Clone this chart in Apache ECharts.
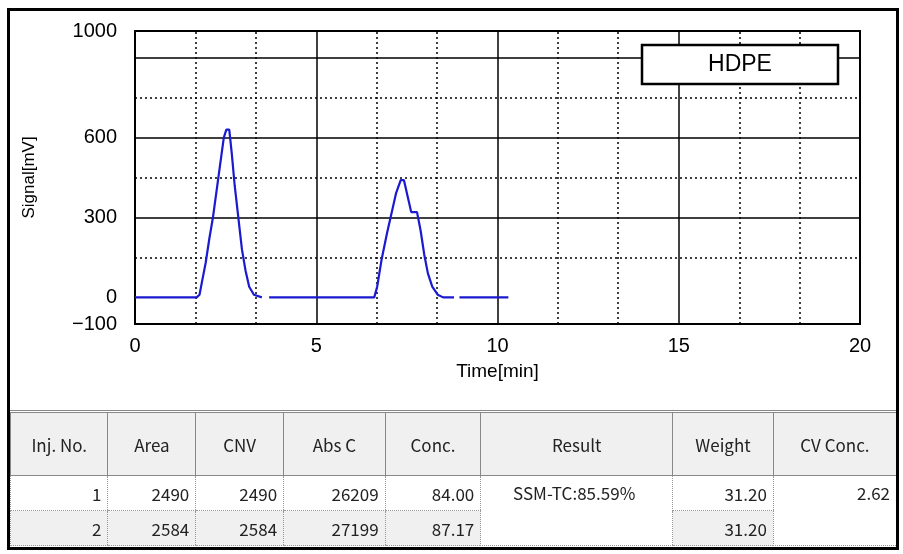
<!DOCTYPE html>
<html><head><meta charset="utf-8">
<script src="https://cdn.jsdelivr.net/npm/echarts@6/dist/echarts.min.js"></script>
<style>
body{margin:0;width:903px;height:554px;background:#fff;overflow:hidden;font-family:"Liberation Sans",Arial,sans-serif}
#frame{position:absolute;left:7px;top:8px;width:886px;height:536px;border:3px solid #000;box-sizing:content-box}
#chart{position:absolute;left:0;top:0;width:903px;height:410px}
table{position:absolute;left:10px;top:410px;width:886px;border-collapse:collapse;font-family:"Noto Sans CJK JP",sans-serif;font-size:17px;color:#222}
th{height:60px;background:#f0f0f0;font-weight:normal;border-left:1px solid #888;border-top:3px double #888;border-bottom:1px solid #888}
td{height:32px;text-align:right;padding-right:6px;border-left:1px dotted #999;border-bottom:1px dotted #999}
tr.r2 td.g{background:#f0f0f0}
</style></head><body>
<div id="chart"></div>
<div id="frame"></div>
<table id="tbl"></table>
<script>
const headers=["Inj. No.","Area","CNV","Abs C","Conc.","Result","Weight","CV Conc."];
const colWidths=[98,87,87,101,95,194,100,124];
const row1=["1","2490","2490","26209","84.00","SSM-TC:85.59%","31.20","2.62"];
const row2=["2","2584","2584","27199","87.17","31.20"];
const seg1=[[0,0],[1.7,0],[1.78,10],[1.85,60],[1.95,130],[2.05,220],[2.15,300],[2.25,400],[2.35,500],[2.45,600],[2.52,630],[2.6,630],[2.67,540],[2.75,420],[2.85,300],[2.95,180],[3.05,100],[3.15,40],[3.28,10],[3.5,0]];
const seg2=[[3.7,0],[6.6,0],[6.68,40],[6.8,140],[6.95,240],[7.1,330],[7.2,390],[7.33,440],[7.42,440],[7.52,380],[7.62,320],[7.78,320],[7.88,250],[7.98,160],[8.08,90],[8.2,40],[8.35,10],[8.5,0],[8.8,0]];
const seg3=[[8.95,0],[10.3,0]];
const yLabels=[-100,0,300,600,1000];
const xLabels=[0,5,10,15,20];

let tb='<tr>'+headers.map((h,i)=>`<th style="width:${colWidths[i]}px">${h}</th>`).join('')+'</tr>';
tb+='<tr>'+row1.map((v,i)=>i==5?`<td rowspan="2" style="text-align:center;vertical-align:top;padding-top:4px">${v}</td>`:i==7?`<td rowspan="2" style="vertical-align:top;padding-top:4px">${v}</td>`:`<td>${v}</td>`).join('')+'</tr>';
tb+='<tr class="r2">'+row2.map(v=>`<td class="g">${v}</td>`).join('')+'</tr>';
document.getElementById('tbl').innerHTML=tb;

const hLines=[150,300,450,600,750,900,1000].map(v=>({yAxis:v,lineStyle:{type:(v%300==0||v==1000)?'solid':[2,3],width:1.5}}));
const vLines=[];for(let i=1;i<=12;i++){const v=i*5/3;vLines.push({xAxis:v,lineStyle:{type:i%3==0?'solid':[2,3],width:1.5}});}
const lineStyle={color:'#1a1ad0',width:2.2};
const chart=echarts.init(document.getElementById('chart'));
chart.setOption({
animation:false,
grid:{left:135,right:43,top:31,bottom:86,show:true,borderColor:'#000',borderWidth:2},
xAxis:{type:'value',min:0,max:20,interval:5/3,name:'Time[min]',nameLocation:'middle',nameGap:38,nameTextStyle:{fontSize:19,color:'#000'},
 axisLine:{show:false},axisTick:{show:false},splitLine:{show:false},
 axisLabel:{fontSize:20,color:'#000',margin:12,formatter:v=>{const r=Math.round(v);return (Math.abs(v-r)<1e-6&&xLabels.includes(r))?String(r):'';}}},
yAxis:{type:'value',min:-100,max:1000,interval:50,name:'Signal[mV]',nameLocation:'middle',nameGap:97,nameTextStyle:{fontSize:17,color:'#000'},
 axisLine:{show:false},axisTick:{show:false},splitLine:{show:false},
 axisLabel:{fontSize:20,color:'#000',margin:18,align:'right',formatter:v=>yLabels.includes(v)?(v<0?'\u2212'+(-v):String(v)):''}},
graphic:[{type:'rect',shape:{x:642,y:45,width:196,height:39},style:{fill:'#fff',stroke:'#000',lineWidth:2.5},z:100},
 {type:'text',x:740,y:65,style:{text:'HDPE',fontSize:23,fill:'#000',align:'center',verticalAlign:'middle',font:'23px "Liberation Sans"'},z:101}],
series:[
 {type:'line',data:seg1,showSymbol:false,lineStyle,z:5,
  markLine:{silent:true,symbol:'none',label:{show:false},lineStyle:{color:'#000'},data:hLines.concat(vLines)}},
 {type:'line',data:seg2,showSymbol:false,lineStyle,z:5},
 {type:'line',data:seg3,showSymbol:false,lineStyle,z:5}
]});
</script></body></html>
